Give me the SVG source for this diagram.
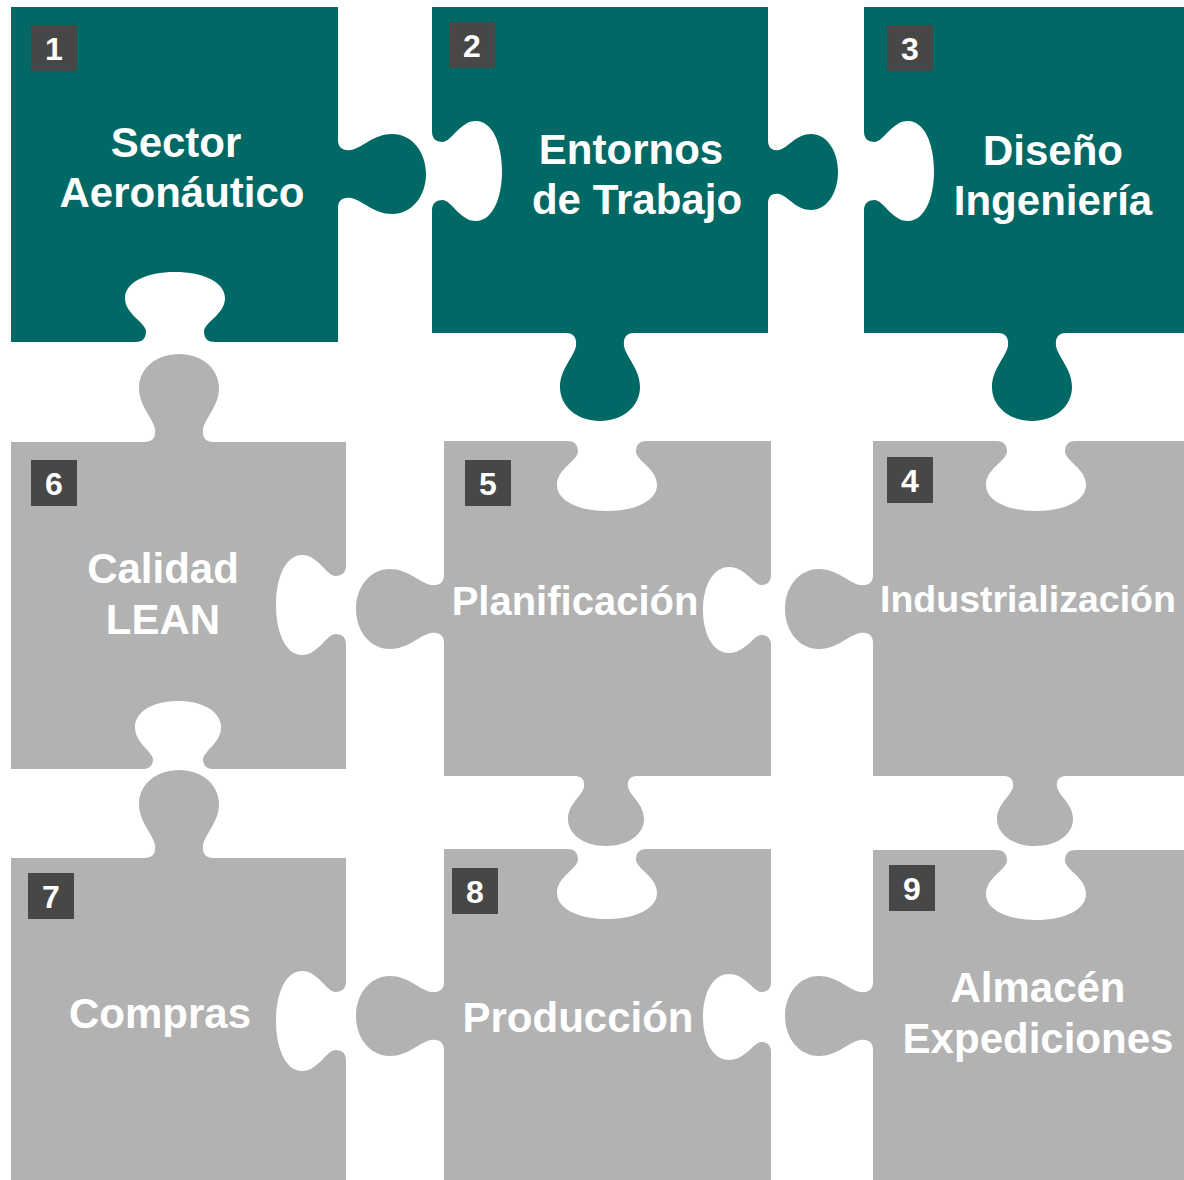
<svg xmlns="http://www.w3.org/2000/svg" width="1184" height="1180" viewBox="0 0 1184 1180">
<style>
.teal{fill:#006865}
.gray{fill:#b2b2b2}
.box{fill:#474747}
.num{font-family:"Liberation Sans",Arial,sans-serif;font-weight:bold;font-size:32px;fill:#ffffff;text-anchor:middle}
.lbl{font-family:"Liberation Sans",Arial,sans-serif;font-weight:bold;font-size:42px;fill:#ffffff;text-anchor:middle}
</style>
<rect width="1184" height="1180" fill="#ffffff"/>
<g id="connectors"/>
<g id="piece1">
<path class="teal" d="M11,7 H338 V140 c0,7 4,11 13,10 c11,-2 23,-16 41,-16 c20,0 34,18 34,40 c0,22 -14,40 -34,40 c-18,0 -30,-14 -41,-16 c-9,-1 -13,3 -13,10 V342 H215 c-7,0 -11,-3 -11,-11 c1,-9 21,-17 21,-33 c0,-16 -22,-26 -50,-26 c-28,0 -50,10 -50,26 c0,16 20,24 21,33 c0,8 -4,11 -11,11 H11 Z"/>
<rect class="box" x="31" y="25" width="46" height="46"/>
<text class="num" x="54" y="60">1</text>
<text class="lbl" x="176" y="157">Sector</text>
<text class="lbl" x="182" y="207">Aeronáutico</text>
</g>
<g id="piece2">
<path class="teal" d="M432,7 H768 V140 c0,7 3,11 11,10 c9,-2 17,-16 32,-16 c16,0 27,17 27,38 c0,21 -11,38 -27,38 c-15,0 -23,-14 -32,-16 c-8,-1 -11,3 -11,10 V333 H634 c-7,0 -11,4 -10,13 c2,11 16,23 16,41 c0,20 -18,34 -40,34 c-22,0 -40,-14 -40,-34 c0,-18 14,-30 16,-41 c1,-9 -3,-13 -10,-13 H432 V211 c0,-7 3,-11 11,-11 c9,1 17,21 33,21 c16,0 26,-22 26,-50 c0,-28 -10,-50 -26,-50 c-16,0 -24,20 -33,21 c-8,0 -11,-4 -11,-11 Z"/>
<rect class="box" x="449" y="22" width="46" height="46"/>
<text class="num" x="472" y="57">2</text>
<text class="lbl" x="631" y="164">Entornos</text>
<text class="lbl" x="637" y="214">de Trabajo</text>
</g>
<g id="piece3">
<path class="teal" d="M864,7 H1184 V333 H1066 c-7,0 -11,4 -10,13 c2,11 16,23 16,41 c0,20 -18,34 -40,34 c-22,0 -40,-14 -40,-34 c0,-18 14,-30 16,-41 c1,-9 -3,-13 -10,-13 H864 V211 c0,-7 3,-11 11,-11 c9,1 17,21 33,21 c16,0 26,-22 26,-50 c0,-28 -10,-50 -26,-50 c-16,0 -24,20 -33,21 c-8,0 -11,-4 -11,-11 Z"/>
<rect class="box" x="887" y="25" width="46" height="46"/>
<text class="num" x="910" y="60">3</text>
<text class="lbl" x="1053" y="165">Diseño</text>
<text class="lbl" x="1053" y="215">Ingeniería</text>
</g>
<g id="piece4">
<path class="gray" d="M873,441 H996 c7,0 11,3 11,11 c-1,9 -21,17 -21,33 c0,16 22,26 50,26 c28,0 50,-10 50,-26 c0,-16 -20,-24 -21,-33 c0,-8 4,-11 11,-11 H1184 V776 H1067 c-7,0 -11,3 -10,11 c2,9 16,17 16,32 c0,16 -17,27 -38,27 c-21,0 -38,-11 -38,-27 c0,-15 14,-23 16,-32 c1,-8 -3,-11 -10,-11 H873 V643 c0,-7 -4,-11 -13,-10 c-11,2 -23,16 -41,16 c-20,0 -34,-18 -34,-40 c0,-22 14,-40 34,-40 c18,0 30,14 41,16 c9,1 13,-3 13,-10 Z"/>
<rect class="box" x="887" y="457" width="46" height="46"/>
<text class="num" x="910" y="492">4</text>
<text class="lbl" x="880" y="612" style="text-anchor:start;font-size:37.5px">Industrialización</text>
</g>
<g id="piece5">
<path class="gray" d="M444,441 H567 c7,0 11,3 11,11 c-1,9 -21,17 -21,33 c0,16 22,26 50,26 c28,0 50,-10 50,-26 c0,-16 -20,-24 -21,-33 c0,-8 4,-11 11,-11 H771 V575 c0,6 -3,10 -10,10 c-8,-1 -16,-18 -32,-18 c-16,0 -26,19 -26,43 c0,24 10,43 26,43 c16,0 24,-17 32,-18 c7,0 10,4 10,10 V776 H638 c-7,0 -11,3 -10,11 c2,9 16,17 16,32 c0,16 -17,27 -38,27 c-21,0 -38,-11 -38,-27 c0,-15 14,-23 16,-32 c1,-8 -3,-11 -10,-11 H444 V643 c0,-7 -4,-11 -13,-10 c-11,2 -23,16 -41,16 c-20,0 -34,-18 -34,-40 c0,-22 14,-40 34,-40 c18,0 30,14 41,16 c9,1 13,-3 13,-10 Z"/>
<rect class="box" x="465" y="460" width="46" height="46"/>
<text class="num" x="488" y="495">5</text>
<text class="lbl" x="575" y="615" style="font-size:40px">Planificación</text>
</g>
<g id="piece6">
<path class="gray" d="M11,442 H145 c7,0 11,-4 10,-13 c-2,-11 -16,-23 -16,-41 c0,-20 18,-34 40,-34 c22,0 40,14 40,34 c0,18 -14,30 -16,41 c-1,9 3,13 10,13 H346 V565 c0,7 -3,11 -11,11 c-9,-1 -17,-21 -33,-21 c-16,0 -26,22 -26,50 c0,28 10,50 26,50 c16,0 24,-20 33,-21 c8,0 11,4 11,11 V769 H213 c-6,0 -10,-3 -10,-10 c1,-8 18,-16 18,-32 c0,-16 -19,-26 -43,-26 c-24,0 -43,10 -43,26 c0,16 17,24 18,32 c0,7 -4,10 -10,10 H11 Z"/>
<rect class="box" x="31" y="460" width="46" height="46"/>
<text class="num" x="54" y="495">6</text>
<text class="lbl" x="163" y="583">Calidad</text>
<text class="lbl" x="163" y="634">LEAN</text>
</g>
<g id="piece7">
<path class="gray" d="M11,858 H145 c7,0 11,-4 10,-13 c-2,-11 -16,-23 -16,-41 c0,-20 18,-34 40,-34 c22,0 40,14 40,34 c0,18 -14,30 -16,41 c-1,9 3,13 10,13 H346 V981 c0,7 -3,11 -11,11 c-9,-1 -17,-21 -33,-21 c-16,0 -26,22 -26,50 c0,28 10,50 26,50 c16,0 24,-20 33,-21 c8,0 11,4 11,11 V1180 H11 Z"/>
<rect class="box" x="28" y="873" width="46" height="46"/>
<text class="num" x="51" y="908">7</text>
<text class="lbl" x="160" y="1028">Compras</text>
</g>
<g id="piece8">
<path class="gray" d="M444,849 H567 c7,0 11,3 11,11 c-1,9 -21,17 -21,33 c0,16 22,26 50,26 c28,0 50,-10 50,-26 c0,-16 -20,-24 -21,-33 c0,-8 4,-11 11,-11 H771 V982 c0,6 -3,10 -10,10 c-8,-1 -16,-18 -32,-18 c-16,0 -26,19 -26,43 c0,24 10,43 26,43 c16,0 24,-17 32,-18 c7,0 10,4 10,10 V1180 H444 V1050 c0,-7 -4,-11 -13,-10 c-11,2 -23,16 -41,16 c-20,0 -34,-18 -34,-40 c0,-22 14,-40 34,-40 c18,0 30,14 41,16 c9,1 13,-3 13,-10 Z"/>
<rect class="box" x="452" y="868" width="46" height="46"/>
<text class="num" x="475" y="903">8</text>
<text class="lbl" x="578" y="1032">Producción</text>
</g>
<g id="piece9">
<path class="gray" d="M873,850 H996 c7,0 11,3 11,11 c-1,9 -21,17 -21,33 c0,16 22,26 50,26 c28,0 50,-10 50,-26 c0,-16 -20,-24 -21,-33 c0,-8 4,-11 11,-11 H1184 V1180 H873 V1050 c0,-7 -4,-11 -13,-10 c-11,2 -23,16 -41,16 c-20,0 -34,-18 -34,-40 c0,-22 14,-40 34,-40 c18,0 30,14 41,16 c9,1 13,-3 13,-10 Z"/>
<rect class="box" x="889" y="865" width="46" height="46"/>
<text class="num" x="912" y="900">9</text>
<text class="lbl" x="1038" y="1002">Almacén</text>
<text class="lbl" x="1038" y="1053">Expediciones</text>
</g>
</svg>
